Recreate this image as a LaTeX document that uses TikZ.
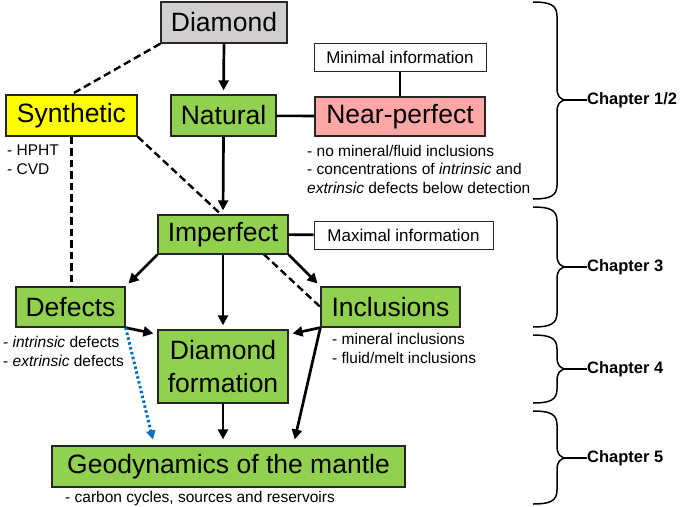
\documentclass[tikz,border=0pt]{standalone}
\usepackage{fontspec}
\setmainfont{Liberation Sans}
\usetikzlibrary{arrows.meta,calc,backgrounds}
\definecolor{grn}{HTML}{92D050}
\definecolor{yel}{HTML}{FFFF00}
\definecolor{pnk}{HTML}{FFA6A6}
\definecolor{gry}{HTML}{D0CECE}
\definecolor{dotblue}{HTML}{0070C0}
\newcommand{\mybrace}[3]{%
  \draw[brc] (533,#1) .. controls (550,#1) and (557,#1+3) .. (557,#1+14) -- (557,#2-12)
    .. controls (557,#2-4) and (560,#2) .. (567,#2)
    .. controls (560,#2) and (557,#2+4) .. (557,#2+12) -- (557,#3-14)
    .. controls (557,#3-3) and (550,#3) .. (533,#3);}
\begin{document}
\begin{tikzpicture}[x=1pt,y=-1pt,
  box/.style={draw=black!85, line width=1.3pt, inner sep=0pt, anchor=center,
    font=\fontsize{26.5}{33}\selectfont},
  info/.style={draw=black!85, line width=1pt, fill=white, inner sep=0pt,
    font=\fontsize{17}{19}\selectfont},
  note/.style={anchor=north west, inner sep=0pt, align=left,
    font=\fontsize{15.5}{18.7}\selectfont},
  arr/.style={line width=2.7pt, -{Triangle[length=10pt,width=10pt]}, shorten >=4pt},
  plain/.style={line width=2.6pt},
  dsh/.style={line width=2.4pt, dash pattern=on 7.5pt off 4pt},
  dotarr/.style={draw=dotblue, line width=3pt, dash pattern=on 2.5pt off 2.5pt,
    -{Triangle[length=9pt,width=9pt]}, shorten >=6pt},
  brc/.style={line width=1.5pt},
  chap/.style={font=\bfseries\fontsize{16.5}{18}\selectfont, anchor=west, inner sep=0pt}]
\useasboundingbox (0,0) rectangle (685,506);

% boxes
\node[box, fill=gry, minimum width=126pt, minimum height=41pt] (diamond) at (224,22.5) {Diamond};
\node[box, fill=yel, minimum width=131pt, minimum height=41pt] (synth) at (71.5,115.5) {Synthetic};
\node[box, fill=grn, minimum width=105pt, minimum height=41pt] (natural) at (223.5,115.5) {Natural};
\node[box, fill=pnk, minimum width=170pt, minimum height=39pt] (near) at (400,116.5) {Near-perfect};
\node[info, minimum width=172pt, minimum height=28pt] (mininfo) at (400,57) {Minimal information};
\node[box, fill=grn, minimum width=130pt, minimum height=39pt] (imp) at (223,234.5) {Imperfect};
\node[info, minimum width=179pt, minimum height=28pt] (maxinfo) at (403.5,235) {Maximal information};
\node[box, fill=grn, minimum width=109pt, minimum height=40pt] (def) at (70.5,307) {Defects};
\node[box, fill=grn, minimum width=139pt, minimum height=40pt] (inc) at (390.5,307) {Inclusions};
\node[box, fill=grn, minimum width=130pt, minimum height=73pt, align=center] (df) at (223,366.5) {Diamond\\formation};
\node[box, fill=grn, minimum width=353pt, minimum height=41pt] (geo) at (228.5,466.5) {Geodynamics of the mantle};

% notes
\node[note] (nsynth) at (7,142.5) {\strut- HPHT\\- CVD};
\node[note] (nnear) at (307,143) {\strut- no mineral/fluid inclusions\\- concentrations of \textit{intrinsic} and\\\textit{extrinsic} defects below detection};
\node[note] (ndef) at (3,334.5) {\strut- \textit{intrinsic} defects\\- \textit{extrinsic} defects};
\node[note] (ninc) at (332,331.5) {\strut- mineral inclusions\\- fluid/melt inclusions};
\node[note] (ngeo) at (65,489.5) {\strut- carbon cycles, sources and reservoirs};

% connectors
\begin{scope}[on background layer]
  \draw[dsh] (synth.south east) -- (inc.west);
\end{scope}
\draw[arr] (diamond.south) -- (natural.north);
\draw[dsh] (diamond.south west) -- (synth.north);
\draw[plain] (natural) -- (near);
\draw[plain] (mininfo) -- (near);
\draw[plain] (imp) -- (maxinfo);
\draw[arr] (natural.south) -- (imp.north);
\draw[dsh] (synth.south) -- (synth.south |- def.north);
\draw[arr] (imp.south west) -- (def.north east);
\draw[arr] (imp.south) -- (df.north);
\draw[arr] (imp.south east) -- (inc.north west);
\draw[arr] (def.south east) -- ($(df.north west)+(0,5)$);
\draw[arr] (inc.south west) -- ($(df.north east)+(0,5)$);
\draw[arr, shorten >=6pt] (inc.south west) -- ($(geo.north west)+(242,0)$);
\draw[arr, shorten >=6pt] (df.south) -- (df.south |- geo.north);
\draw[dotarr] (def.south east) -- ($(geo.north west)+(103,0)$);

% braces and chapter labels
\mybrace{2}{100}{199}
\mybrace{207}{267}{327}
\mybrace{335}{369}{403}
\mybrace{411}{458}{504}
\coordinate (t1) at (567,100);
\coordinate (t2) at (567,267);
\coordinate (t3) at (567,369);
\coordinate (t4) at (567,458);
\node[chap] (c1) at (587,100) {Chapter 1/2};
\node[chap] (c2) at (587,267) {Chapter 3};
\node[chap] (c3) at (587,369) {Chapter 4};
\node[chap] (c4) at (587,458) {Chapter 5};
\draw[brc] (t1) -- (c1.west);
\draw[brc] (t2) -- (c2.west);
\draw[brc] (t3) -- (c3.west);
\draw[brc] (t4) -- (c4.west);
\end{tikzpicture}
\end{document}
